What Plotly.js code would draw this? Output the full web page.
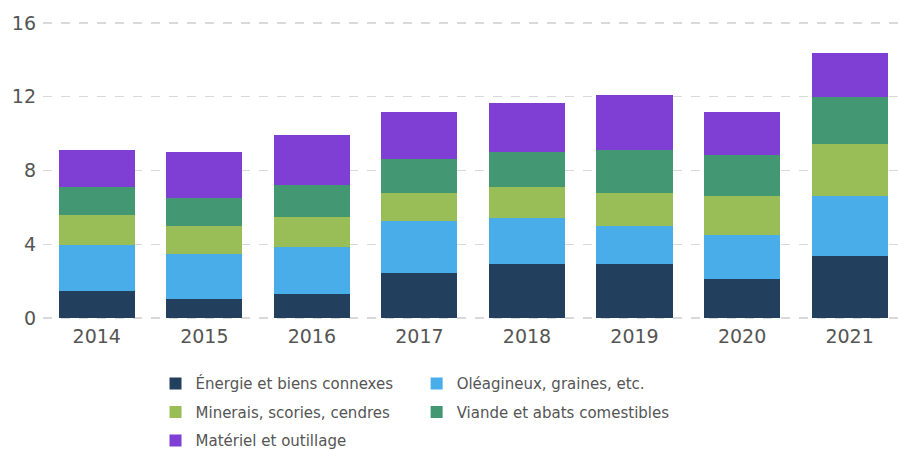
<!DOCTYPE html>
<html>
<head>
<meta charset="utf-8">
<script src="https://cdn.plot.ly/plotly-3.0.1.min.js"></script>
<style>html,body{margin:0;padding:0;background:#fff;}#chart{width:898px;height:451px;}</style>
</head>
<body>
<div id="chart"></div>
<script>
var years = ['2014','2015','2016','2017','2018','2019','2020','2021'];
var energie   = [1.49, 1.05, 1.32, 2.44, 2.93, 2.93, 2.10, 3.35];
var oleagineux = [2.45, 2.40, 2.56, 2.82, 2.51, 2.08, 2.40, 3.27];
var minerais  = [1.63, 1.52, 1.58, 1.52, 1.66, 1.77, 2.12, 2.82];
var viande    = [1.53, 1.53, 1.74, 1.84, 1.92, 2.33, 2.23, 2.54];
var materiel  = [2.01, 2.50, 2.73, 2.55, 2.64, 2.98, 2.33, 2.41];
var yTicks = [0, 4, 8, 12, 16];

function tr(name, vals, color, legend, grp) {
  return {type: 'bar', name: name, x: years, y: vals, legend: legend, legendgroup: grp,
    marker: {color: color, line: {width: 0}}, hoverinfo: 'x+y+name'};
}
var data = [
  tr('Énergie et biens connexes', energie, '#233f5e', 'legend', 'a'),
  tr('Oléagineux, graines, etc.', oleagineux, '#49adea', 'legend2', 'b'),
  tr('Minerais, scories, cendres', minerais, '#99bd57', 'legend', 'c'),
  tr('Viande et abats comestibles', viande, '#439873', 'legend2', 'd'),
  tr('Matériel et outillage', materiel, '#7f3fd5', 'legend', 'e')
];
var legFont = {family: 'DejaVu Sans, Verdana, sans-serif', size: 15, color: '#555555'};
var layout = {
  width: 898, height: 451,
  margin: {l: 43, r: 0, t: 21, b: 131, autoexpand: false},
  barmode: 'stack', bargap: 0.293,
  paper_bgcolor: '#ffffff', plot_bgcolor: '#ffffff',
  font: {family: 'DejaVu Sans, Verdana, sans-serif', color: '#555555'},
  xaxis: {type: 'category', range: [-0.5, 7.45], showgrid: false, zeroline: false, showline: false,
    ticks: '', ticklabelstandoff: 3, tickfont: {size: 19, color: '#555555'}, fixedrange: true},
  yaxis: {range: [-0.1, 16.1], tickvals: yTicks, ticktext: yTicks.map(String), showgrid: true,
    gridcolor: '#d9d9d9', griddash: 'dash', gridwidth: 1.5, zeroline: false, showline: false,
    ticks: '', ticklabelstandoff: 6, tickfont: {size: 19, color: '#555555'}, fixedrange: true},
  showlegend: true,
  legend: {orientation: 'v', x: 0.1316, xanchor: 'left', y: -0.158, yanchor: 'top',
    font: legFont, tracegroupgap: 6, itemwidth: 30, bgcolor: 'rgba(0,0,0,0)', traceorder: 'grouped'},
  legend2: {orientation: 'v', x: 0.437, xanchor: 'left', y: -0.158, yanchor: 'top',
    font: legFont, tracegroupgap: 6, itemwidth: 30, bgcolor: 'rgba(0,0,0,0)', traceorder: 'grouped'}
};
Plotly.newPlot('chart', data, layout, {displayModeBar: false, staticPlot: true});
</script>
</body>
</html>
